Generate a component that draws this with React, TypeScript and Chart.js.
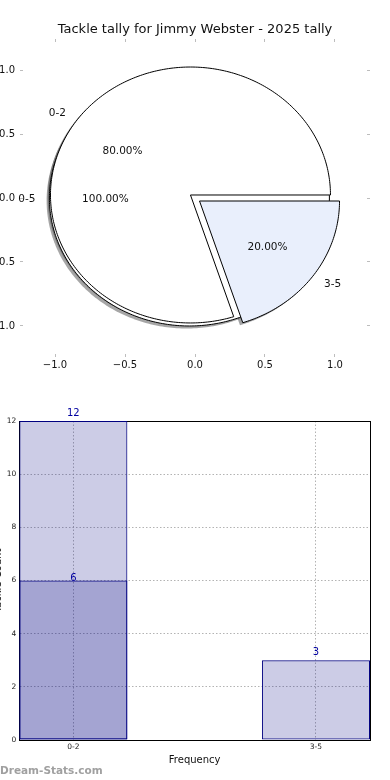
import React, { useEffect, useRef } from 'react';
import { Chart, registerables } from 'chart.js';

Chart.register(...registerables);

// ---------- data ----------
const chartTitle = 'Tackle tally for Jimmy Webster - 2025 tally';

const totalLabels = ['0-5'];
const totalValues = [15];
const totalColors = ['#ffffff'];

const sliceLabels = ['0-2', '3-5'];
const sliceValues = [12, 3];
const sliceColors = ['#ffffff', '#e9effc'];

const pieTicks = [-1, -0.5, 0, 0.5, 1];

const barCategories = ['0-2', '3-5'];
const barPositions = [0, 1];
const tallyValues = [12, 3];
const overlayValues = [6];
const barYTicks = [0, 2, 4, 6, 8, 10, 12];
const barXLabel = 'Frequency';
const barYLabel = 'Tackle Count';
const watermark = 'Dream-Stats.com';

// ---------- style ----------
const FONT = '"DejaVu Sans", sans-serif';
const EXPLODE = 0.04;
const SHADOW = -0.02;
const LABEL_DIST = 1.1;
const PCT_DIST = 0.6;

type Wedge = {
  t1: number; t2: number; cx: number; cy: number; mid: number;
  color: string; label: string; pct: string;
};

function buildWedges(values: number[], labels: string[], colors: string[]): Wedge[] {
  const total = values.reduce((a, b) => a + b, 0);
  let theta = 0;
  return values.map((v, i) => {
    const t1 = theta;
    const t2 = theta + (360 * v) / total;
    theta = t2;
    const mid = ((t1 + t2) / 2) * Math.PI / 180;
    return {
      t1, t2, mid,
      cx: EXPLODE * Math.cos(mid),
      cy: EXPLODE * Math.sin(mid),
      color: colors[i],
      label: labels[i],
      pct: ((100 * v) / total).toFixed(2) + '%',
    };
  });
}

function shadowColor(hex: string) {
  const n = parseInt(hex.slice(1), 16);
  const r = Math.round(((n >> 16) & 255) * 0.3);
  const g = Math.round(((n >> 8) & 255) * 0.3);
  const b = Math.round((n & 255) * 0.3);
  return `rgba(${r},${g},${b},0.5)`;
}

function tracePath(ctx: CanvasRenderingContext2D, xs: any, ys: any, w: Wedge, dx: number, dy: number) {
  ctx.beginPath();
  const full = w.t2 - w.t1 >= 359.9999;
  if (!full) ctx.moveTo(xs.getPixelForValue(w.cx + dx), ys.getPixelForValue(w.cy + dy));
  const steps = Math.max(4, Math.ceil(w.t2 - w.t1));
  for (let k = 0; k <= steps; k++) {
    const a = ((w.t1 + ((w.t2 - w.t1) * k) / steps) * Math.PI) / 180;
    const px = xs.getPixelForValue(w.cx + dx + Math.cos(a));
    const py = ys.getPixelForValue(w.cy + dy + Math.sin(a));
    if (full && k === 0) ctx.moveTo(px, py);
    else ctx.lineTo(px, py);
  }
  ctx.closePath();
}

const piePlugin = {
  id: 'ellipsePie',
  afterDatasetsDraw(chart: any) {
    const { ctx } = chart;
    const xs = chart.scales.x;
    const ys = chart.scales.y;
    const groups = [
      buildWedges(totalValues, totalLabels, totalColors),
      buildWedges(sliceValues, sliceLabels, sliceColors),
    ];
    const all = groups.flat();
    ctx.save();
    all.forEach((w) => {
      tracePath(ctx, xs, ys, w, SHADOW, SHADOW);
      ctx.fillStyle = shadowColor(w.color);
      ctx.fill();
    });
    all.forEach((w) => {
      tracePath(ctx, xs, ys, w, 0, 0);
      ctx.fillStyle = w.color;
      ctx.fill();
      ctx.lineWidth = 1;
      ctx.strokeStyle = '#000';
      ctx.lineJoin = 'miter';
      ctx.stroke();
    });
    ctx.font = `10.5px ${FONT}`;
    ctx.fillStyle = '#111';
    ctx.textBaseline = 'middle';
    all.forEach((w) => {
      const lx = w.cx + LABEL_DIST * Math.cos(w.mid);
      const ly = w.cy + LABEL_DIST * Math.sin(w.mid);
      ctx.textAlign = lx > 0 ? 'left' : 'right';
      ctx.fillText(w.label, xs.getPixelForValue(lx), ys.getPixelForValue(ly) + 1);
      const px = w.cx + PCT_DIST * Math.cos(w.mid);
      const py = w.cy + PCT_DIST * Math.sin(w.mid);
      ctx.textAlign = 'center';
      ctx.fillText(w.pct, xs.getPixelForValue(px), ys.getPixelForValue(py) + 1);
    });
    ctx.restore();
  },
};

const fmtPie = (v: number) => (v < 0 ? '\u2212' : '') + Math.abs(v).toFixed(1);

function pieAxis(position: string, showLabels: boolean, range: number, size: number, pad: number) {
  return {
    type: 'linear',
    position,
    min: -range,
    max: range,
    afterBuildTicks: (s: any) => {
      s.ticks = pieTicks.map((v) => ({ value: v }));
    },
    afterFit: (s: any) => {
      if (position === 'top' || position === 'bottom') s.height = size;
      else s.width = size;
    },
    grid: {
      display: true,
      drawOnChartArea: false,
      drawTicks: true,
      tickLength: 3,
      tickColor: '#bdbdbd',
      tickWidth: 1,
    },
    border: { display: false },
    ticks: {
      display: showLabels,
      padding: pad,
      autoSkip: false,
      maxRotation: 0,
      font: { family: FONT, size: 10 },
      color: '#111',
      callback: (v: number) => fmtPie(v),
    },
  };
}

const barLabelOffsets = [0.2, 0];

const barValuePlugin = {
  id: 'barValues',
  afterDatasetsDraw(chart: any) {
    const { ctx } = chart;
    const xs = chart.scales.x;
    const ys = chart.scales.y;
    ctx.save();
    ctx.font = `10px ${FONT}`;
    ctx.fillStyle = '#0000a0';
    ctx.textAlign = 'center';
    ctx.textBaseline = 'alphabetic';
    chart.data.datasets.forEach((ds: any, di: number) => {
      ds.data.forEach((p: any) => {
        ctx.fillText(String(p.y), xs.getPixelForValue(p.x), ys.getPixelForValue(p.y + barLabelOffsets[di]));
      });
    });
    ctx.restore();
  },
};

export default function App() {
  const pieRef = useRef<HTMLCanvasElement>(null);
  const barRef = useRef<HTMLCanvasElement>(null);

  useEffect(() => {
    const pie = new Chart(pieRef.current as HTMLCanvasElement, {
      type: 'scatter',
      data: { datasets: [{ data: [] }] },
      options: {
        animation: false,
        responsive: false,
        devicePixelRatio: 1,
        layout: { padding: 0 },
        plugins: {
          legend: { display: false },
          tooltip: { enabled: false },
          title: {
            display: true,
            text: chartTitle,
            color: '#111',
            font: { family: FONT, size: 13, weight: 'normal' },
            padding: { top: 22, bottom: 0 },
          },
        },
        scales: {
          x: pieAxis('bottom', true, 1.2286, 36, 2),
          x2: pieAxis('top', false, 1.2286, 4.4, 2),
          y: pieAxis('left', true, 1.219, 23, 5),
          y2: pieAxis('right', false, 1.219, 23, 5),
        },
      } as any,
      plugins: [piePlugin],
    } as any);

    const barFill = 'rgba(0,0,128,0.2)';
    const gridColor = 'rgba(160,160,160,0.8)';
    const bar = new Chart(barRef.current as HTMLCanvasElement, {
      type: 'bar',
      data: {
        datasets: [
          {
            label: 'tally',
            data: barPositions.map((x, i) => ({ x, y: tallyValues[i] })),
            backgroundColor: barFill,
            borderColor: '#000080',
            borderWidth: 1,
            borderSkipped: false,
            grouped: false,
            categoryPercentage: 1,
            barPercentage: 0.4455,
          },
          {
            label: 'overlay',
            data: overlayValues.map((y, i) => ({ x: barPositions[i], y })),
            backgroundColor: barFill,
            borderColor: '#000080',
            borderWidth: 1,
            borderSkipped: false,
            grouped: false,
            categoryPercentage: 1,
            barPercentage: 0.4455,
          },
        ],
      },
      options: {
        animation: false,
        responsive: false,
        devicePixelRatio: 1,
        layout: { padding: 0 },
        plugins: { legend: { display: false }, tooltip: { enabled: false }, title: { display: false } },
        scales: {
          x: {
            type: 'linear',
            position: 'bottom',
            offset: false,
            min: -0.2228,
            max: 1.2228,
            afterBuildTicks: (s: any) => {
              s.ticks = barPositions.map((v) => ({ value: v }));
            },
            afterFit: (s: any) => { s.height = 40; },
            ticks: {
              autoSkip: false,
              maxRotation: 0,
              padding: 3,
              font: { family: FONT, size: 7.5 },
              color: '#222',
              callback: (v: number) => barCategories[barPositions.indexOf(v)] ?? '',
            },
            grid: { display: true, offset: false, drawTicks: false, color: gridColor, lineWidth: 1 },
            border: { display: true, color: '#000', width: 1, dash: [1.5, 2] },
            title: {
              display: true,
              text: barXLabel,
              color: '#111',
              font: { family: FONT, size: 10 },
              padding: { top: 0, bottom: 14 },
            },
          },
          x2: {
            type: 'linear',
            position: 'top',
            display: true,
            offset: false,
            min: -0.2228,
            max: 1.2228,
            afterFit: (s: any) => { s.height = 31; },
            ticks: { display: false },
            grid: { display: false },
            border: { display: true, color: '#000', width: 1 },
          },
          y: {
            type: 'linear',
            position: 'left',
            min: 0,
            max: 12,
            afterBuildTicks: (s: any) => {
              s.ticks = barYTicks.map((v) => ({ value: v }));
            },
            afterFit: (s: any) => { s.width = 19.3; },
            ticks: {
              autoSkip: false,
              padding: 3,
              font: { family: FONT, size: 7.5 },
              color: '#222',
            },
            grid: { display: true, drawTicks: false, color: gridColor, lineWidth: 1 },
            border: { display: true, color: '#000', width: 1, dash: [1.5, 2] },
            title: {
              display: true,
              text: barYLabel,
              color: '#111',
              font: { family: FONT, size: 10 },
              padding: { top: -7.5, bottom: 0 },
            },
          },
          y2: {
            type: 'linear',
            position: 'right',
            display: true,
            min: 0,
            max: 12,
            afterFit: (s: any) => { s.width = 20; },
            ticks: { display: false },
            grid: { display: false },
            border: { display: true, color: '#000', width: 1 },
          },
        },
      } as any,
      plugins: [barValuePlugin],
    } as any);

    return () => {
      pie.destroy();
      bar.destroy();
    };
  }, []);

  return (
    <div style={{ position: 'absolute', left: 0, top: 0, width: 390, height: 780, background: '#fff', overflow: 'hidden' }}>
      <canvas ref={pieRef} width={390} height={390} style={{ display: 'block', position: 'absolute', left: 0, top: 0 }} />
      <canvas ref={barRef} width={390} height={390} style={{ display: 'block', position: 'absolute', left: 0, top: 390 }} />
      <div
        style={{
          position: 'absolute',
          left: 0,
          top: 763,
          fontFamily: FONT,
          fontWeight: 'bold',
          fontSize: 10.5,
          lineHeight: '14px',
          color: '#a0a0a0',
          whiteSpace: 'nowrap',
        }}
      >
        {watermark}
      </div>
    </div>
  );
}
